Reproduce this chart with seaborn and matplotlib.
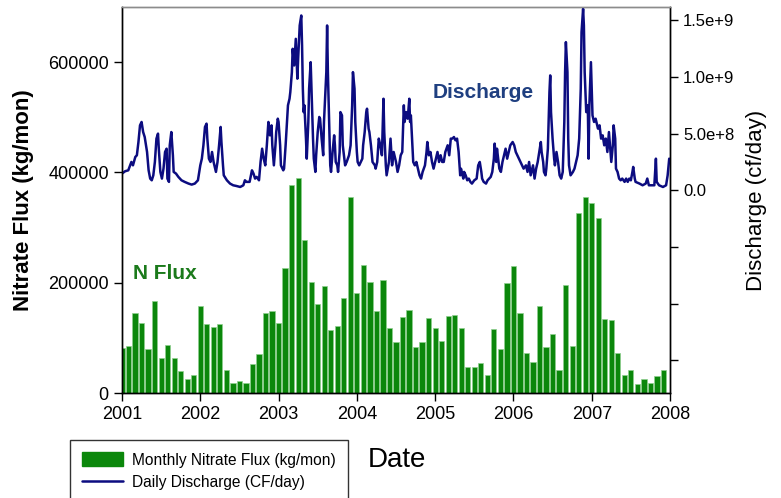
import numpy as np
import pandas as pd
import matplotlib
matplotlib.use("Agg")
import matplotlib.pyplot as plt
from matplotlib import font_manager
from matplotlib.patches import Patch
from matplotlib.lines import Line2D
import seaborn as sns

# ---------------- data ----------------
# monthly nitrate flux (kg/mon), Jan 2001 .. Dec 2007
flux_2001 = [82000, 85000, 145000, 127000, 79000, 167000, 64000, 87000, 64000, 39000, 25000, 33000]
flux_2002 = [158000, 125000, 119000, 125000, 42000, 17500, 22000, 19000, 52000, 70000, 145000, 149000]
flux_2003 = [127000, 227000, 378000, 390000, 278000, 201000, 161000, 194000, 115000, 121000, 173000, 355000]
flux_2004 = [181000, 233000, 202000, 148000, 205000, 118000, 92000, 137000, 150000, 83000, 92000, 136000]
flux_2005 = [117000, 94000, 140000, 141000, 118000, 47000, 47000, 55000, 33000, 116000, 79000, 200000]
flux_2006 = [231000, 145000, 73000, 56000, 158000, 84000, 107000, 42000, 196000, 86000, 327000, 355000]
flux_2007 = [345000, 317000, 135000, 133000, 73000, 33000, 41000, 16000, 25000, 19000, 31000, 42000]
flux = flux_2001 + flux_2002 + flux_2003 + flux_2004 + flux_2005 + flux_2006 + flux_2007

months = pd.date_range("2001-01-01", periods=len(flux), freq="MS")

# daily discharge, traced points (decimal year, 1e8 cf/day)
dis_year = [
    2001.00, 2001.04, 2001.08, 2001.12, 2001.14, 2001.17, 2001.19, 2001.21, 2001.23, 2001.25,
    2001.27, 2001.29, 2001.32, 2001.34, 2001.36, 2001.38, 2001.40, 2001.42, 2001.44, 2001.46,
    2001.47, 2001.49, 2001.51, 2001.53, 2001.55, 2001.57, 2001.58, 2001.60, 2001.61, 2001.63,
    2001.65, 2001.66, 2001.69, 2001.72, 2001.76, 2001.80, 2001.85, 2001.89, 2001.93, 2001.95,
    2001.97, 2002.00, 2002.02, 2002.04, 2002.06, 2002.08, 2002.09, 2002.11, 2002.13, 2002.15,
    2002.17, 2002.20, 2002.22, 2002.24, 2002.26, 2002.27, 2002.29, 2002.30, 2002.34, 2002.38,
    2002.42, 2002.46, 2002.51, 2002.55, 2002.57, 2002.59, 2002.63,
    2002.66, 2002.68, 2002.70, 2002.72, 2002.75, 2002.77, 2002.79, 2002.81, 2002.83, 2002.85,
    2002.87, 2002.89, 2002.91, 2002.92, 2002.94, 2002.96, 2002.97, 2002.99, 2003.00, 2003.02,
    2003.03, 2003.06, 2003.07, 2003.09, 2003.11, 2003.12, 2003.14, 2003.15, 2003.17, 2003.18,
    2003.20, 2003.21, 2003.22, 2003.24, 2003.25, 2003.26, 2003.27, 2003.29, 2003.30, 2003.31,
    2003.32, 2003.33, 2003.35, 2003.36, 2003.38, 2003.39, 2003.41, 2003.42, 2003.44, 2003.45,
    2003.47, 2003.48, 2003.50, 2003.52, 2003.53, 2003.55, 2003.57, 2003.58, 2003.61, 2003.62,
    2003.63, 2003.65, 2003.66, 2003.67, 2003.69, 2003.71, 2003.72, 2003.73, 2003.75, 2003.76,
    2003.78, 2003.79, 2003.81, 2003.82, 2003.84, 2003.85, 2003.87, 2003.90, 2003.92, 2003.94,
    2003.95, 2003.97, 2003.98, 2004.00, 2004.01, 2004.03, 2004.05, 2004.07, 2004.08, 2004.10,
    2004.12, 2004.13, 2004.15, 2004.16, 2004.18, 2004.20, 2004.23, 2004.24, 2004.26, 2004.28,
    2004.30, 2004.32, 2004.34, 2004.35, 2004.37, 2004.38,
    2004.41, 2004.43, 2004.45, 2004.47, 2004.50, 2004.52, 2004.54, 2004.56, 2004.58, 2004.60,
    2004.61, 2004.63, 2004.65, 2004.67, 2004.68, 2004.69, 2004.71, 2004.72, 2004.74, 2004.76,
    2004.78, 2004.80, 2004.82, 2004.84, 2004.87, 2004.89, 2004.90, 2004.92, 2004.94, 2004.96,
    2004.98, 2005.01, 2005.03, 2005.05, 2005.07, 2005.09, 2005.11, 2005.13, 2005.16, 2005.18,
    2005.20, 2005.22, 2005.24, 2005.26, 2005.28, 2005.30, 2005.32, 2005.33, 2005.36, 2005.37,
    2005.39, 2005.41, 2005.43, 2005.45, 2005.47, 2005.50, 2005.53, 2005.55, 2005.57, 2005.59,
    2005.60, 2005.62, 2005.65, 2005.67, 2005.71, 2005.73, 2005.75, 2005.76, 2005.78, 2005.79,
    2005.82, 2005.84, 2005.86, 2005.88, 2005.90, 2005.92, 2005.94, 2005.96, 2005.99, 2006.01,
    2006.03, 2006.05, 2006.07, 2006.09, 2006.11, 2006.13,
    2006.16, 2006.18, 2006.20, 2006.22, 2006.25, 2006.27, 2006.29, 2006.31, 2006.33, 2006.35,
    2006.36, 2006.38, 2006.39, 2006.41, 2006.42, 2006.44, 2006.46, 2006.47, 2006.48, 2006.50,
    2006.52, 2006.53, 2006.55, 2006.57, 2006.59, 2006.61, 2006.63, 2006.65, 2006.66, 2006.67,
    2006.69, 2006.70, 2006.71, 2006.73, 2006.76, 2006.78, 2006.80, 2006.82, 2006.84, 2006.86,
    2006.87, 2006.89, 2006.90, 2006.91, 2006.93, 2006.95, 2006.96, 2006.97, 2006.99, 2007.00,
    2007.01, 2007.03, 2007.05, 2007.08, 2007.10, 2007.12, 2007.14, 2007.16, 2007.18, 2007.20,
    2007.22, 2007.25, 2007.27, 2007.28, 2007.30, 2007.31, 2007.33, 2007.35, 2007.37, 2007.39,
    2007.42, 2007.44, 2007.46, 2007.48, 2007.50, 2007.52, 2007.53, 2007.55, 2007.56, 2007.61,
    2007.65, 2007.69, 2007.71, 2007.73, 2007.76, 2007.80, 2007.82, 2007.83, 2007.86, 2007.91,
    2007.95, 2007.97, 2007.99,
]
dis_val = [
    1.47, 1.68, 1.76, 2.50, 2.20, 2.94, 3.09, 4.26, 5.73, 6.03,
    5.14, 4.70, 3.38, 1.76, 1.03, 0.88, 1.32, 2.50, 4.56, 5.00,
    3.67, 1.62, 1.03, 1.91, 3.38, 3.67, 1.03, 0.74, 3.97, 5.14,
    3.09, 1.62, 1.47, 1.18, 0.88, 0.74, 0.59, 0.50, 0.59, 0.74,
    0.88, 2.20, 2.79, 3.97, 5.59, 5.88, 4.56, 2.79, 2.50, 3.38,
    2.50, 1.62, 2.50, 3.97, 5.59, 4.26, 2.20, 1.32, 0.88, 0.59,
    0.44, 0.38, 0.29, 0.44, 0.88, 0.74, 0.74,
    1.76, 1.47, 1.03, 1.18, 0.88, 2.50, 3.67, 2.79, 2.20, 3.97,
    6.03, 4.85, 5.73, 3.97, 2.20, 3.97, 5.14, 6.32, 6.03, 3.97,
    2.20, 1.76, 1.91, 3.97, 6.32, 7.50, 8.08, 8.67, 10.43, 12.49,
    11.02, 12.20, 13.37, 9.85, 11.61, 13.08, 14.55, 15.43, 12.79, 8.97,
    6.90, 7.50, 4.56, 2.79, 6.03, 8.97, 11.31, 8.97, 4.56, 2.79,
    1.62, 3.09, 5.14, 6.47, 6.32, 4.56, 3.09, 6.03, 10.43, 14.55,
    10.43, 5.14, 2.20, 1.62, 3.38, 4.85, 3.97, 2.50, 2.20, 1.62,
    3.38, 6.90, 6.61, 3.97, 2.79, 2.20, 2.50, 3.09, 3.97, 7.50,
    10.43, 8.97, 6.03, 3.38, 2.50, 2.20, 2.50, 2.79, 3.97, 5.14,
    6.90, 7.20, 5.44, 5.14, 3.97, 2.50, 2.20, 1.91, 2.50, 4.56,
    3.97, 3.09, 8.08, 5.14, 2.20, 1.32,
    2.50, 4.56, 2.20, 3.38, 2.50, 1.62, 2.20, 3.09, 3.38, 7.50,
    6.03, 6.90, 6.32, 8.08, 6.03, 6.61, 3.97, 2.50, 2.20, 2.50,
    1.91, 1.32, 1.03, 1.62, 2.20, 3.38, 4.26, 3.09, 3.38, 2.50,
    1.91, 2.79, 3.38, 2.50, 3.09, 2.50, 2.50, 3.38, 3.97, 3.09,
    4.56, 4.56, 4.70, 4.41, 4.56, 3.38, 1.32, 1.91, 1.03, 1.62,
    1.32, 0.88, 1.03, 0.74, 0.59, 0.88, 1.03, 2.20, 2.50, 1.62,
    1.03, 0.74, 0.59, 0.88, 1.18, 1.62, 2.79, 4.12, 2.50, 3.67,
    1.91, 1.62, 2.50, 3.09, 3.67, 2.79, 3.38, 3.97, 4.26, 3.97,
    3.38, 3.09, 2.79, 2.50, 2.20, 1.91,
    2.20, 1.62, 2.50, 1.32, 2.20, 1.03, 1.91, 2.50, 3.38, 4.26,
    3.38, 2.50, 1.62, 1.32, 1.91, 3.67, 8.67, 10.14, 6.90, 4.56,
    2.79, 2.20, 3.38, 2.50, 1.32, 1.03, 1.62, 6.03, 10.43, 13.08,
    10.43, 4.56, 2.20, 1.32, 1.62, 1.91, 2.50, 3.09, 4.56, 8.97,
    13.96, 16.02, 14.55, 10.43, 6.90, 7.50, 2.79, 7.50, 11.31, 8.97,
    6.61, 6.03, 6.32, 5.44, 5.73, 4.56, 4.85, 3.97, 4.56, 3.38,
    5.14, 2.50, 3.97, 5.73, 4.56, 1.91, 1.62, 1.03, 0.88, 1.03,
    0.74, 1.03, 0.74, 1.03, 0.88, 1.62, 2.06, 1.03, 0.74, 0.59,
    0.44, 0.59, 1.03, 0.44, 0.44, 0.44, 2.79, 0.74, 0.44, 0.29,
    0.44, 1.32, 2.79,
]

year_ticks = [2001, 2002, 2003, 2004, 2005, 2006, 2007, 2008]
flux_ticks = [0, 200000, 400000, 600000]
dis_ticks = [-1.5e9, -1.0e9, -5.0e8, 0.0, 5.0e8, 1.0e9, 1.5e9]
dis_tick_labels = ["", "", "", "0.0", "5.0e+8", "1.0e+9", "1.5e+9"]

GREEN = "#0b870b"
NAVY = "#0c0c80"

# ---------------- plotting ----------------
sns.set_theme(style="ticks")
plt.rcParams["font.family"] = ["Liberation Sans", "DejaVu Sans"]
plt.rcParams["text.color"] = "black"
plt.rcParams["axes.labelcolor"] = "black"
plt.rcParams["xtick.color"] = "black"
plt.rcParams["ytick.color"] = "black"

installed = {f.name for f in font_manager.fontManager.ttflist}
if "Liberation Sans Narrow" in installed:
    legend_font = {"family": "Liberation Sans Narrow", "size": 13}
else:
    legend_font = {"family": "Liberation Sans", "size": 11.2}

df_flux = pd.DataFrame({"pos": months.year + (months.month - 1) / 12, "flux": flux})
df_dis = pd.DataFrame({"year": dis_year, "dis": np.array(dis_val) * 1e8})

fig = plt.figure(figsize=(7.81, 4.98), dpi=100)
ax = fig.add_axes([122 / 781, 1 - 393 / 498, (670 - 122) / 781, (393 - 7) / 498])

sns.barplot(data=df_flux, x="pos", y="flux", native_scale=True, color=GREEN,
            saturation=1, width=0.8, edgecolor="#8fd08f", linewidth=0.5, ax=ax)
ax.set_xlim(2001, 2008)
ax.set_ylim(0, 700000)
ax.set_xticks(year_ticks)
ax.set_xticklabels([str(y) for y in year_ticks])
ax.set_yticks(flux_ticks)
ax.set_yticklabels([str(v) for v in flux_ticks])
ax.set_xlabel("")
ax.set_ylabel("Nitrate Flux (kg/mon)", fontsize=16, fontweight="bold", labelpad=10)
ax.tick_params(axis="both", direction="out", length=6, width=1, labelsize=13, colors="black")

ax2 = ax.twinx()
sns.lineplot(data=df_dis, x="year", y="dis", color=NAVY, lw=1.8,
             estimator=None, errorbar=None, ax=ax2)
ax2.set_xlim(2001, 2008)
ax2.set_ylim(-1.79e9, 1.618e9)
ax2.set_yticks(dis_ticks)
ax2.set_yticklabels(dis_tick_labels)
ax2.set_xlabel("")
ax2.set_ylabel("Discharge (cf/day)", fontsize=16, labelpad=8, color="black")
ax2.tick_params(axis="y", direction="out", length=6, width=1, labelsize=12, colors="black")

for a in (ax, ax2):
    for s in a.spines.values():
        s.set_color("black")
        s.set_linewidth(1)
        s.set_visible(True)
    a.spines["top"].set_color("0.55")

ax.text(2001.14, 217000, "N Flux", color="#1b7a1b", fontsize=15, fontweight="bold",
        ha="left", va="center")
ax2.text(2004.97, 8.6e8, "Discharge", color="#1f3f80", fontsize=15, fontweight="bold",
         ha="left", va="center")

fig.text(397 / 781, 1 - 460 / 498, "Date", fontsize=20, ha="center", va="center", color="black")

handles = [Patch(facecolor=GREEN, edgecolor=GREEN),
           Line2D([0], [0], color=NAVY, lw=1.8)]
labels = ["Monthly Nitrate Flux (kg/mon)", "Daily Discharge (CF/day)"]
leg = fig.legend(handles, labels, loc="upper left", bbox_to_anchor=(70 / 781, 1 - 440 / 498),
                 frameon=True, fancybox=False, edgecolor="black", prop=legend_font,
                 handlelength=2.6, handleheight=1.0, borderpad=0.8, labelspacing=0.45,
                 handletextpad=0.6, borderaxespad=0, labelcolor="black")
leg.get_frame().set_linewidth(1)

fig.savefig("out.png", dpi=100)
